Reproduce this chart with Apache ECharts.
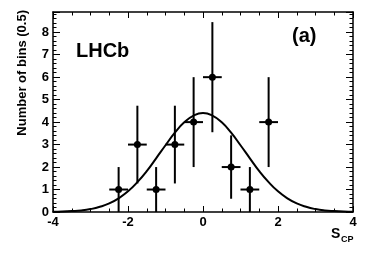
<!DOCTYPE html>
<html>
<head>
<meta charset="utf-8">
<script src="https://cdn.jsdelivr.net/npm/echarts@6/dist/echarts.min.js"></script>
<style>
html,body{margin:0;padding:0;background:#fff;}
#c{width:374px;height:253px;}
</style>
</head>
<body>
<div id="c"></div>
<script>
// Data
var binCenters = [-2.25, -1.75, -1.25, -0.75, -0.25, 0.25, 0.75, 1.25, 1.75];
var counts     = [1, 3, 1, 3, 4, 6, 2, 1, 4];
var errLow     = [0, 1.27, 0, 1.27, 2.0, 3.55, 0.59, 0, 2.0];
var errHigh    = [2.0, 4.73, 2.0, 4.73, 6.0, 8.45, 3.41, 2.0, 6.0];
var binHalfWidth = 0.25;

var curveX = [-4, -3.75, -3.5, -3.25, -3, -2.75, -2.5, -2.25, -2, -1.75, -1.5, -1.25, -1, -0.75, -0.5, -0.25,
              0, 0.25, 0.5, 0.75, 1, 1.25, 1.5, 1.75, 2, 2.25, 2.5, 2.75, 3, 3.25, 3.5, 3.75, 4];
var curveY = [0.01, 0.02, 0.04, 0.07, 0.13, 0.23, 0.38, 0.61, 0.92, 1.33, 1.82, 2.39, 2.97, 3.53, 3.99, 4.29,
              4.40, 4.29, 3.99, 3.53, 2.97, 2.39, 1.82, 1.33, 0.92, 0.61, 0.38, 0.23, 0.13, 0.07, 0.04, 0.02, 0.01];

var xTicks = [-4, -2, 0, 2, 4];
var yTicks = [0, 1, 2, 3, 4, 5, 6, 7, 8];

var FONT = '"Liberation Sans", Arial, Helvetica, sans-serif';

var curveData = curveX.map(function (x, i) { return [x, curveY[i]]; });
var pointData = binCenters.map(function (x, i) { return [x, counts[i], errLow[i], errHigh[i]]; });

var chart = echarts.init(document.getElementById('c'), null, {renderer: 'canvas'});

function xAxisDef(pos, showLabel) {
  return {
    type: 'value', min: -4, max: 4, interval: 2, position: pos,
    axisLine: {show: true, onZero: false, lineStyle: {color: '#000', width: 1.5}},
    axisTick: {show: true, inside: true, length: 6, lineStyle: {color: '#000', width: 1}},
    minorTick: {show: true, splitNumber: 4, length: 3.5, lineStyle: {color: '#000', width: 1}},
    axisLabel: {show: showLabel, color: '#000', fontFamily: FONT, fontWeight: 'bold', fontSize: 13, margin: 4,
      formatter: function (v) { return xTicks.indexOf(v) >= 0 ? String(v) : ''; }},
    splitLine: {show: false}, minorSplitLine: {show: false}
  };
}
function yAxisDef(pos, showLabel) {
  return {
    type: 'value', min: 0, max: 8.9, interval: 1, position: pos,
    axisLine: {show: true, onZero: false, lineStyle: {color: '#000', width: 1.5}},
    axisTick: {show: true, inside: true, length: 7, lineStyle: {color: '#000', width: 1}},
    minorTick: {show: true, splitNumber: 5, length: 3.5, lineStyle: {color: '#000', width: 1}},
    axisLabel: {show: showLabel, color: '#000', fontFamily: FONT, fontWeight: 'bold', fontSize: 13, margin: 4,
      formatter: function (v) { return yTicks.indexOf(v) >= 0 ? String(v) : ''; }},
    splitLine: {show: false}, minorSplitLine: {show: false}
  };
}

var option = {
  backgroundColor: '#fff',
  animation: false,
  grid: {left: 53, right: 21, top: 12, bottom: 41, containLabel: false},
  xAxis: [xAxisDef('bottom', true), xAxisDef('top', false)],
  yAxis: [yAxisDef('left', true), yAxisDef('right', false)],
  series: [
    {
      type: 'line', data: curveData, smooth: true, showSymbol: false,
      lineStyle: {color: '#000', width: 2}, xAxisIndex: 0, yAxisIndex: 0, z: 2
    },
    {
      type: 'custom', data: pointData, xAxisIndex: 0, yAxisIndex: 0, z: 3,
      renderItem: function (params, api) {
        var x = api.value(0), y = api.value(1), lo = api.value(2), hi = api.value(3);
        var c = api.coord([x, y]);
        var pLo = api.coord([x, lo]);
        var pHi = api.coord([x, hi]);
        var pL = api.coord([x - binHalfWidth, y]);
        var pR = api.coord([x + binHalfWidth, y]);
        var st = {stroke: '#000', lineWidth: 2};
        return {
          type: 'group',
          children: [
            {type: 'line', shape: {x1: pLo[0], y1: pLo[1], x2: pHi[0], y2: pHi[1]}, style: st},
            {type: 'line', shape: {x1: pL[0], y1: pL[1], x2: pR[0], y2: pR[1]}, style: st},
            {type: 'circle', shape: {cx: c[0], cy: c[1], r: 3.5}, style: {fill: '#000'}}
          ]
        };
      }
    }
  ],
  graphic: [
    {type: 'text', left: 76, top: 41, style: {text: 'LHCb', font: 'bold 20px ' + FONT, fill: '#000'}},
    {type: 'text', left: 292, top: 26, style: {text: '(a)', font: 'bold 20px ' + FONT, fill: '#000'}},
    {type: 'text', left: 331, top: 227, style: {text: 'S', font: 'bold 14px ' + FONT, fill: '#000'}},
    {type: 'text', left: 341, top: 235, style: {text: 'CP', font: 'bold 9px ' + FONT, fill: '#000'}},
    {type: 'text', x: 22, y: 10, rotation: Math.PI / 2,
      style: {text: 'Number of bins (0.5)', font: 'bold 13px ' + FONT, fill: '#000',
        textAlign: 'right', textVerticalAlign: 'middle', align: 'right', verticalAlign: 'middle'}}
  ]
};
chart.setOption(option);
</script>
</body>
</html>
